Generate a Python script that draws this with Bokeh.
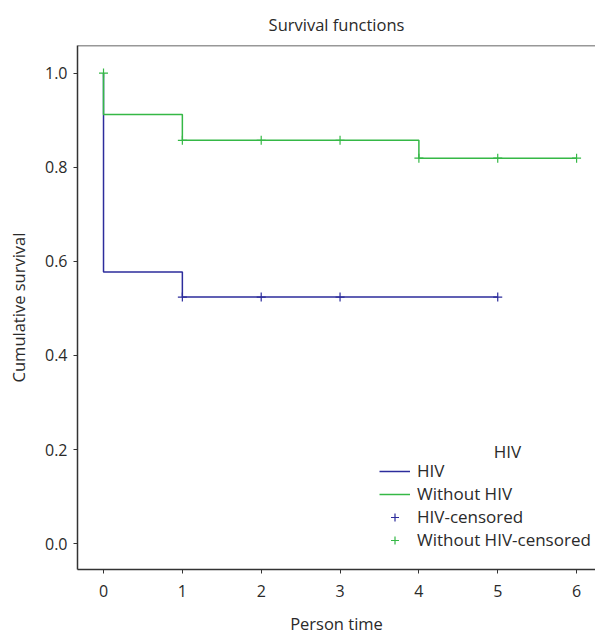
from bokeh.plotting import figure
from bokeh.models import Legend, LegendItem, Span, Label, Range1d, CustomJSTickFormatter
from bokeh.embed import file_html
from bokeh.resources import INLINE

# Data
hiv_x = [0, 0, 1, 5]
hiv_y = [1.0, 0.577, 0.524, 0.524]
nohiv_x = [0, 0, 1, 4, 6]
nohiv_y = [1.0, 0.912, 0.857, 0.819, 0.819]
hiv_cens_x = [1, 2, 3, 5]
hiv_cens_y = [0.524, 0.524, 0.524, 0.524]
nohiv_cens_x = [0, 1, 2, 3, 4, 5, 6]
nohiv_cens_y = [1.0, 0.857, 0.857, 0.857, 0.819, 0.819, 0.819]
x_ticks = [0, 1, 2, 3, 4, 5, 6]
y_ticks = [0.0, 0.2, 0.4, 0.6, 0.8, 1.0]

BLUE = "#2c2c9c"
GREEN = "#35b846"
FONT = "Open Sans"
TXT = "#2a2a2a"
Y_TOP = 1.0585

p = figure(width=595, height=637, output_backend="svg", toolbar_location=None,
           x_range=Range1d(-0.33, 6.24), y_range=Range1d(-0.055, Y_TOP),
           min_border_left=77, min_border_top=43, min_border_bottom=67, min_border_right=0)
p.outline_line_color = None
p.grid.visible = False
p.background_fill_color = "white"
p.border_fill_color = "white"

p.title.text = "Survival functions"
p.title.align = "center"
p.title.text_font = FONT
p.title.text_font_style = "normal"
p.title.text_font_size = "16.5px"
p.title.text_color = TXT
p.title.standoff = 20

for ax in (p.xaxis[0], p.yaxis[0]):
    ax.axis_line_color = "#333333"
    ax.axis_line_width = 1.5
    ax.major_tick_line_color = "#333333"
    ax.major_tick_in = 0
    ax.major_tick_out = 4
    ax.minor_tick_line_color = None
    ax.major_label_text_font = FONT
    ax.major_label_text_font_size = "16px"
    ax.major_label_text_color = TXT
    ax.axis_label_text_font = FONT
    ax.axis_label_text_font_size = "16.5px"
    ax.axis_label_text_font_style = "normal"
    ax.axis_label_text_color = TXT

p.xaxis.ticker = x_ticks
p.yaxis.ticker = y_ticks
p.yaxis.formatter = CustomJSTickFormatter(code="return tick.toFixed(1);")
p.xaxis.axis_label = "Person time"
p.yaxis.axis_label = "Cumulative survival"
p.xaxis.major_label_standoff = 11
p.xaxis.axis_label_standoff = 12
p.yaxis.major_label_standoff = 6
p.yaxis.axis_label_standoff = 12

p.add_layout(Span(location=Y_TOP, dimension="width", line_color="#333333", line_width=1.5))

r_hiv = p.step(hiv_x, hiv_y, mode="after", line_color=BLUE, line_width=1.5)
r_no = p.step(nohiv_x, nohiv_y, mode="after", line_color=GREEN, line_width=1.5)
r_hc = p.scatter(hiv_cens_x, hiv_cens_y, marker="cross", size=9, line_color=BLUE, line_width=1.2)
r_nc = p.scatter(nohiv_cens_x, nohiv_cens_y, marker="cross", size=9, line_color=GREEN, line_width=1.2)

# legend-only line renderers for the censored entries
l_hc = p.line([], [], line_color=BLUE, line_width=1.2)
l_nc = p.line([], [], line_color=GREEN, line_width=1.2)

legend = Legend(items=[
    LegendItem(label="HIV", renderers=[r_hiv]),
    LegendItem(label="Without HIV", renderers=[r_no]),
    LegendItem(label="HIV-censored", renderers=[l_hc, r_hc]),
    LegendItem(label="Without HIV-censored", renderers=[l_nc, r_nc]),
], location=(302, 18), padding=0, margin=0, spacing=-1, glyph_width=31, glyph_height=20,
    label_height=20, label_standoff=7, label_text_font=FONT, label_text_font_size="17px",
    label_text_color=TXT, background_fill_alpha=0, border_line_color=None)
p.add_layout(legend, "center")

# legend title (screen units are relative to the plot frame)
p.add_layout(Label(x=430, y=118, x_units="screen", y_units="screen", text="HIV",
                   text_align="center", text_baseline="middle", text_font=FONT,
                   text_font_size="17px", text_color=TXT))

open("out.html", "w").write(file_html(p, INLINE))
